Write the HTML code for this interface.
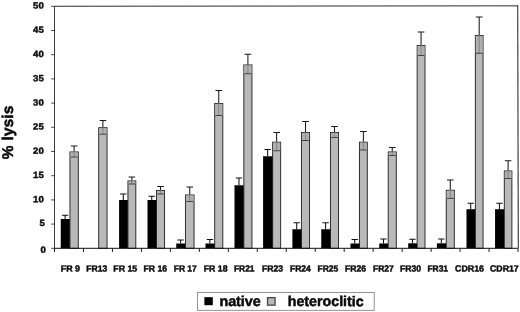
<!DOCTYPE html><html><head><meta charset="utf-8"><title>% lysis chart</title>
<style>html,body{margin:0;padding:0;background:#fff}svg{display:block}text{font-family:"Liberation Sans",sans-serif;font-weight:bold;fill:#0a0a0a;stroke:#0a0a0a;stroke-width:0.42px;stroke-linejoin:round}text.s{stroke-width:0.45px}text.b{stroke-width:0.5px}</style></head><body>
<svg width="520" height="312" viewBox="0 0 520 312">
<defs><filter id="soft" x="0" y="0" width="100%" height="100%" filterUnits="userSpaceOnUse" color-interpolation-filters="sRGB"><feGaussianBlur stdDeviation="0.32"/></filter></defs>
<rect width="520" height="312" fill="#fff"/>
<g filter="url(#soft)">
<rect width="520" height="312" fill="#fff"/>
<line x1="54.5" y1="6.25" x2="518.0" y2="5.85" stroke="#2c2c2c" stroke-width="1"/>
<line x1="54.5" y1="6" x2="54.5" y2="251.2" stroke="#1c1c1c" stroke-width="0.85"/>
<line x1="517.7" y1="5.6" x2="518.3" y2="248.3" stroke="#333" stroke-width="1.1"/>
<line x1="51.2" y1="248.30" x2="54.5" y2="248.30" stroke="#333" stroke-width="0.9"/>
<text x="45.7" y="252.70" font-size="9.0" text-anchor="end" textLength="5.3" lengthAdjust="spacingAndGlyphs" transform="rotate(0.03 45.7 252.70)">0</text>
<line x1="51.2" y1="224.10" x2="54.5" y2="224.10" stroke="#333" stroke-width="0.9"/>
<text x="44.9" y="226.10" font-size="9.0" text-anchor="end" textLength="5.3" lengthAdjust="spacingAndGlyphs" transform="rotate(0.03 44.9 226.10)">5</text>
<line x1="51.2" y1="199.90" x2="54.5" y2="199.90" stroke="#333" stroke-width="0.9"/>
<text x="43.7" y="202.20" font-size="9.0" text-anchor="end" textLength="10.6" lengthAdjust="spacingAndGlyphs" transform="rotate(0.03 43.7 202.20)">10</text>
<line x1="51.2" y1="175.70" x2="54.5" y2="175.70" stroke="#333" stroke-width="0.9"/>
<text x="43.7" y="178.00" font-size="9.0" text-anchor="end" textLength="10.6" lengthAdjust="spacingAndGlyphs" transform="rotate(0.03 43.7 178.00)">15</text>
<line x1="51.2" y1="151.50" x2="54.5" y2="151.50" stroke="#333" stroke-width="0.9"/>
<text x="43.7" y="153.80" font-size="9.0" text-anchor="end" textLength="10.6" lengthAdjust="spacingAndGlyphs" transform="rotate(0.03 43.7 153.80)">20</text>
<line x1="51.2" y1="127.30" x2="54.5" y2="127.30" stroke="#333" stroke-width="0.9"/>
<text x="43.7" y="129.60" font-size="9.0" text-anchor="end" textLength="10.6" lengthAdjust="spacingAndGlyphs" transform="rotate(0.03 43.7 129.60)">25</text>
<line x1="51.2" y1="103.10" x2="54.5" y2="103.10" stroke="#333" stroke-width="0.9"/>
<text x="43.7" y="105.40" font-size="9.0" text-anchor="end" textLength="10.6" lengthAdjust="spacingAndGlyphs" transform="rotate(0.03 43.7 105.40)">30</text>
<line x1="51.2" y1="78.90" x2="54.5" y2="78.90" stroke="#333" stroke-width="0.9"/>
<text x="43.7" y="81.20" font-size="9.0" text-anchor="end" textLength="10.6" lengthAdjust="spacingAndGlyphs" transform="rotate(0.03 43.7 81.20)">35</text>
<line x1="51.2" y1="54.70" x2="54.5" y2="54.70" stroke="#333" stroke-width="0.9"/>
<text x="43.7" y="57.00" font-size="9.0" text-anchor="end" textLength="10.6" lengthAdjust="spacingAndGlyphs" transform="rotate(0.03 43.7 57.00)">40</text>
<line x1="51.2" y1="30.50" x2="54.5" y2="30.50" stroke="#333" stroke-width="0.9"/>
<text x="43.7" y="32.80" font-size="9.0" text-anchor="end" textLength="10.6" lengthAdjust="spacingAndGlyphs" transform="rotate(0.03 43.7 32.80)">45</text>
<line x1="51.2" y1="6.30" x2="54.5" y2="6.30" stroke="#333" stroke-width="0.9"/>
<text x="43.7" y="8.60" font-size="9.0" text-anchor="end" textLength="10.6" lengthAdjust="spacingAndGlyphs" transform="rotate(0.03 43.7 8.60)">50</text>
<rect x="69.95" y="151.95" width="8.35" height="96.35" fill="#b9b9b9" stroke="#262626" stroke-width="0.95"/>
<rect x="70.40" y="152.40" width="7.45" height="4.60" fill="#b0b0b0"/>
<path d="M74.12 151.50V157.00" stroke="#808080" stroke-width="0.85" fill="none"/>
<path d="M70.72 157.00h6.8" stroke="#383838" stroke-width="0.9" fill="none"/>
<path d="M74.12 146.00V151.50M70.83 146.00h6.6" stroke="#1a1a1a" stroke-width="1.05" fill="none"/>
<rect x="60.75" y="219.00" width="9.05" height="29.30" fill="#000"/>
<path d="M65.12 215.25V219.00M61.92 215.25h6.4" stroke="#111" stroke-width="1.05" fill="none"/>
<rect x="98.70" y="127.70" width="8.35" height="120.60" fill="#b9b9b9" stroke="#262626" stroke-width="0.95"/>
<rect x="99.15" y="128.15" width="7.45" height="6.10" fill="#b0b0b0"/>
<path d="M102.88 127.25V134.25" stroke="#808080" stroke-width="0.85" fill="none"/>
<path d="M99.47 134.25h6.8" stroke="#383838" stroke-width="0.9" fill="none"/>
<path d="M102.88 120.50V127.25M99.58 120.50h6.6" stroke="#1a1a1a" stroke-width="1.05" fill="none"/>
<rect x="127.95" y="180.95" width="7.85" height="67.35" fill="#b9b9b9" stroke="#262626" stroke-width="0.95"/>
<rect x="128.40" y="181.40" width="6.95" height="2.60" fill="#b0b0b0"/>
<path d="M131.88 180.50V184.00" stroke="#808080" stroke-width="0.85" fill="none"/>
<path d="M128.47 184.00h6.8" stroke="#383838" stroke-width="0.9" fill="none"/>
<path d="M131.88 177.00V180.50M128.57 177.00h6.6" stroke="#1a1a1a" stroke-width="1.05" fill="none"/>
<rect x="119.10" y="200.00" width="8.70" height="48.30" fill="#000"/>
<path d="M123.30 194.00V200.00M120.10 194.00h6.4" stroke="#111" stroke-width="1.05" fill="none"/>
<rect x="156.45" y="190.45" width="8.10" height="57.85" fill="#b9b9b9" stroke="#262626" stroke-width="0.95"/>
<rect x="156.90" y="190.90" width="7.20" height="3.10" fill="#b0b0b0"/>
<path d="M160.50 190.00V194.00" stroke="#808080" stroke-width="0.85" fill="none"/>
<path d="M157.10 194.00h6.8" stroke="#383838" stroke-width="0.9" fill="none"/>
<path d="M160.50 186.50V190.00M157.20 186.50h6.6" stroke="#1a1a1a" stroke-width="1.05" fill="none"/>
<rect x="147.50" y="200.00" width="8.80" height="48.30" fill="#000"/>
<path d="M151.75 196.25V200.00M148.55 196.25h6.4" stroke="#111" stroke-width="1.05" fill="none"/>
<rect x="185.45" y="194.95" width="8.60" height="53.35" fill="#b9b9b9" stroke="#262626" stroke-width="0.95"/>
<rect x="185.90" y="195.40" width="7.70" height="6.10" fill="#b0b0b0"/>
<path d="M189.75 194.50V201.50" stroke="#808080" stroke-width="0.85" fill="none"/>
<path d="M186.35 201.50h6.8" stroke="#383838" stroke-width="0.9" fill="none"/>
<path d="M189.75 187.00V194.50M186.45 187.00h6.6" stroke="#1a1a1a" stroke-width="1.05" fill="none"/>
<rect x="176.25" y="243.50" width="9.05" height="4.80" fill="#000"/>
<path d="M180.62 240.00V243.50M177.43 240.00h6.4" stroke="#111" stroke-width="1.05" fill="none"/>
<rect x="214.70" y="103.45" width="8.10" height="144.85" fill="#b9b9b9" stroke="#262626" stroke-width="0.95"/>
<rect x="215.15" y="103.90" width="7.20" height="11.60" fill="#b0b0b0"/>
<path d="M218.75 103.00V115.50" stroke="#808080" stroke-width="0.85" fill="none"/>
<path d="M215.35 115.50h6.8" stroke="#383838" stroke-width="0.9" fill="none"/>
<path d="M218.75 90.50V103.00M215.45 90.50h6.6" stroke="#1a1a1a" stroke-width="1.05" fill="none"/>
<rect x="205.50" y="243.50" width="9.05" height="4.80" fill="#000"/>
<path d="M209.88 239.50V243.50M206.68 239.50h6.4" stroke="#111" stroke-width="1.05" fill="none"/>
<rect x="243.85" y="64.95" width="8.10" height="183.35" fill="#b9b9b9" stroke="#262626" stroke-width="0.95"/>
<rect x="244.30" y="65.40" width="7.20" height="8.35" fill="#b0b0b0"/>
<path d="M247.90 64.50V73.75" stroke="#808080" stroke-width="0.85" fill="none"/>
<path d="M244.50 73.75h6.8" stroke="#383838" stroke-width="0.9" fill="none"/>
<path d="M247.90 54.25V64.50M244.60 54.25h6.6" stroke="#1a1a1a" stroke-width="1.05" fill="none"/>
<rect x="234.50" y="185.25" width="9.20" height="63.05" fill="#000"/>
<path d="M238.95 178.00V185.25M235.75 178.00h6.4" stroke="#111" stroke-width="1.05" fill="none"/>
<rect x="272.65" y="142.20" width="8.00" height="106.10" fill="#b9b9b9" stroke="#262626" stroke-width="0.95"/>
<rect x="273.10" y="142.65" width="7.10" height="8.10" fill="#b0b0b0"/>
<path d="M276.65 141.75V150.75" stroke="#808080" stroke-width="0.85" fill="none"/>
<path d="M273.25 150.75h6.8" stroke="#383838" stroke-width="0.9" fill="none"/>
<path d="M276.65 132.50V141.75M273.35 132.50h6.6" stroke="#1a1a1a" stroke-width="1.05" fill="none"/>
<rect x="263.10" y="156.25" width="9.40" height="92.05" fill="#000"/>
<path d="M267.65 149.50V156.25M264.45 149.50h6.4" stroke="#111" stroke-width="1.05" fill="none"/>
<rect x="301.45" y="132.45" width="8.10" height="115.85" fill="#b9b9b9" stroke="#262626" stroke-width="0.95"/>
<rect x="301.90" y="132.90" width="7.20" height="7.60" fill="#b0b0b0"/>
<path d="M305.50 132.00V140.50" stroke="#808080" stroke-width="0.85" fill="none"/>
<path d="M302.10 140.50h6.8" stroke="#383838" stroke-width="0.9" fill="none"/>
<path d="M305.50 121.50V132.00M302.20 121.50h6.6" stroke="#1a1a1a" stroke-width="1.05" fill="none"/>
<rect x="292.40" y="229.25" width="8.90" height="19.05" fill="#000"/>
<path d="M296.70 222.75V229.25M293.50 222.75h6.4" stroke="#111" stroke-width="1.05" fill="none"/>
<rect x="330.45" y="132.45" width="8.10" height="115.85" fill="#b9b9b9" stroke="#262626" stroke-width="0.95"/>
<rect x="330.90" y="132.90" width="7.20" height="4.60" fill="#b0b0b0"/>
<path d="M334.50 132.00V137.50" stroke="#808080" stroke-width="0.85" fill="none"/>
<path d="M331.10 137.50h6.8" stroke="#383838" stroke-width="0.9" fill="none"/>
<path d="M334.50 126.50V132.00M331.20 126.50h6.6" stroke="#1a1a1a" stroke-width="1.05" fill="none"/>
<rect x="321.25" y="229.25" width="9.05" height="19.05" fill="#000"/>
<path d="M325.62 222.75V229.25M322.43 222.75h6.4" stroke="#111" stroke-width="1.05" fill="none"/>
<rect x="359.45" y="142.20" width="7.85" height="106.10" fill="#b9b9b9" stroke="#262626" stroke-width="0.95"/>
<rect x="359.90" y="142.65" width="6.95" height="7.35" fill="#b0b0b0"/>
<path d="M363.38 141.75V150.00" stroke="#808080" stroke-width="0.85" fill="none"/>
<path d="M359.98 150.00h6.8" stroke="#383838" stroke-width="0.9" fill="none"/>
<path d="M363.38 131.50V141.75M360.07 131.50h6.6" stroke="#1a1a1a" stroke-width="1.05" fill="none"/>
<rect x="350.50" y="243.50" width="8.80" height="4.80" fill="#000"/>
<path d="M354.75 239.50V243.50M351.55 239.50h6.4" stroke="#111" stroke-width="1.05" fill="none"/>
<rect x="388.20" y="151.95" width="8.10" height="96.35" fill="#b9b9b9" stroke="#262626" stroke-width="0.95"/>
<rect x="388.65" y="152.40" width="7.20" height="3.10" fill="#b0b0b0"/>
<path d="M392.25 151.50V155.50" stroke="#808080" stroke-width="0.85" fill="none"/>
<path d="M388.85 155.50h6.8" stroke="#383838" stroke-width="0.9" fill="none"/>
<path d="M392.25 147.50V151.50M388.95 147.50h6.6" stroke="#1a1a1a" stroke-width="1.05" fill="none"/>
<rect x="379.25" y="243.50" width="8.80" height="4.80" fill="#000"/>
<path d="M383.50 239.00V243.50M380.30 239.00h6.4" stroke="#111" stroke-width="1.05" fill="none"/>
<rect x="417.15" y="45.45" width="7.85" height="202.85" fill="#b9b9b9" stroke="#262626" stroke-width="0.95"/>
<rect x="417.60" y="45.90" width="6.95" height="9.60" fill="#b0b0b0"/>
<path d="M421.07 45.00V55.50" stroke="#808080" stroke-width="0.85" fill="none"/>
<path d="M417.68 55.50h6.8" stroke="#383838" stroke-width="0.9" fill="none"/>
<path d="M421.07 32.00V45.00M417.77 32.00h6.6" stroke="#1a1a1a" stroke-width="1.05" fill="none"/>
<rect x="408.20" y="243.30" width="8.80" height="5.00" fill="#000"/>
<path d="M412.45 239.15V243.30M409.25 239.15h6.4" stroke="#111" stroke-width="1.05" fill="none"/>
<rect x="446.25" y="190.25" width="8.05" height="58.05" fill="#b9b9b9" stroke="#262626" stroke-width="0.95"/>
<rect x="446.70" y="190.70" width="7.15" height="7.70" fill="#b0b0b0"/>
<path d="M450.27 189.80V198.40" stroke="#808080" stroke-width="0.85" fill="none"/>
<path d="M446.88 198.40h6.8" stroke="#383838" stroke-width="0.9" fill="none"/>
<path d="M450.27 179.90V189.80M446.97 179.90h6.6" stroke="#1a1a1a" stroke-width="1.05" fill="none"/>
<rect x="436.90" y="243.30" width="9.20" height="5.00" fill="#000"/>
<path d="M441.35 239.00V243.30M438.15 239.00h6.4" stroke="#111" stroke-width="1.05" fill="none"/>
<rect x="475.35" y="35.45" width="7.70" height="212.85" fill="#b9b9b9" stroke="#262626" stroke-width="0.95"/>
<rect x="475.80" y="35.90" width="6.80" height="17.35" fill="#b0b0b0"/>
<path d="M479.20 35.00V53.25" stroke="#808080" stroke-width="0.85" fill="none"/>
<path d="M475.80 53.25h6.8" stroke="#383838" stroke-width="0.9" fill="none"/>
<path d="M479.20 17.00V35.00M475.90 17.00h6.6" stroke="#1a1a1a" stroke-width="1.05" fill="none"/>
<rect x="466.50" y="209.20" width="8.70" height="39.10" fill="#000"/>
<path d="M470.70 203.20V209.20M467.50 203.20h6.4" stroke="#111" stroke-width="1.05" fill="none"/>
<rect x="504.30" y="170.95" width="7.60" height="77.35" fill="#b9b9b9" stroke="#262626" stroke-width="0.95"/>
<rect x="504.75" y="171.40" width="6.70" height="7.10" fill="#b0b0b0"/>
<path d="M508.10 170.50V178.50" stroke="#808080" stroke-width="0.85" fill="none"/>
<path d="M504.70 178.50h6.8" stroke="#383838" stroke-width="0.9" fill="none"/>
<path d="M508.10 160.70V170.50M504.80 160.70h6.6" stroke="#1a1a1a" stroke-width="1.05" fill="none"/>
<rect x="495.05" y="209.20" width="9.10" height="39.10" fill="#000"/>
<path d="M499.45 203.20V209.20M496.25 203.20h6.4" stroke="#111" stroke-width="1.05" fill="none"/>
<line x1="54.5" y1="248.3" x2="518.0" y2="248.3" stroke="#111" stroke-width="1"/>
<line x1="54.50" y1="248.3" x2="54.50" y2="251.9" stroke="#1a1a1a" stroke-width="1"/>
<line x1="83.47" y1="248.3" x2="83.47" y2="251.9" stroke="#1a1a1a" stroke-width="1"/>
<line x1="112.44" y1="248.3" x2="112.44" y2="251.9" stroke="#1a1a1a" stroke-width="1"/>
<line x1="141.41" y1="248.3" x2="141.41" y2="251.9" stroke="#1a1a1a" stroke-width="1"/>
<line x1="170.38" y1="248.3" x2="170.38" y2="251.9" stroke="#1a1a1a" stroke-width="1"/>
<line x1="199.35" y1="248.3" x2="199.35" y2="251.9" stroke="#1a1a1a" stroke-width="1"/>
<line x1="228.32" y1="248.3" x2="228.32" y2="251.9" stroke="#1a1a1a" stroke-width="1"/>
<line x1="257.29" y1="248.3" x2="257.29" y2="251.9" stroke="#1a1a1a" stroke-width="1"/>
<line x1="286.26" y1="248.3" x2="286.26" y2="251.9" stroke="#1a1a1a" stroke-width="1"/>
<line x1="315.23" y1="248.3" x2="315.23" y2="251.9" stroke="#1a1a1a" stroke-width="1"/>
<line x1="344.20" y1="248.3" x2="344.20" y2="251.9" stroke="#1a1a1a" stroke-width="1"/>
<line x1="373.17" y1="248.3" x2="373.17" y2="251.9" stroke="#1a1a1a" stroke-width="1"/>
<line x1="402.14" y1="248.3" x2="402.14" y2="251.9" stroke="#1a1a1a" stroke-width="1"/>
<line x1="431.11" y1="248.3" x2="431.11" y2="251.9" stroke="#1a1a1a" stroke-width="1"/>
<line x1="460.08" y1="248.3" x2="460.08" y2="251.9" stroke="#1a1a1a" stroke-width="1"/>
<line x1="489.05" y1="248.3" x2="489.05" y2="251.9" stroke="#1a1a1a" stroke-width="1"/>
<line x1="518.02" y1="248.3" x2="518.02" y2="251.9" stroke="#1a1a1a" stroke-width="1"/>
<text x="60.75" y="271.4" font-size="8.9" class="s" textLength="19.25" lengthAdjust="spacingAndGlyphs" xml:space="preserve" transform="rotate(0.03 60.75 271.4)">FR 9</text>
<text x="86.25" y="271.4" font-size="8.9" class="s" textLength="21" lengthAdjust="spacingAndGlyphs" xml:space="preserve" transform="rotate(0.03 86.25 271.4)">FR13</text>
<text x="113.25" y="271.4" font-size="8.9" class="s" textLength="24" lengthAdjust="spacingAndGlyphs" xml:space="preserve" transform="rotate(0.03 113.25 271.4)">FR 15</text>
<text x="143.5" y="271.4" font-size="8.9" class="s" textLength="23.5" lengthAdjust="spacingAndGlyphs" xml:space="preserve" transform="rotate(0.03 143.5 271.4)">FR 16</text>
<text x="173.75" y="271.4" font-size="8.9" class="s" textLength="23" lengthAdjust="spacingAndGlyphs" xml:space="preserve" transform="rotate(0.03 173.75 271.4)">FR 17</text>
<text x="203.75" y="271.4" font-size="8.9" class="s" textLength="23.75" lengthAdjust="spacingAndGlyphs" xml:space="preserve" transform="rotate(0.03 203.75 271.4)">FR 18</text>
<text x="234" y="271.4" font-size="8.9" class="s" textLength="20.5" lengthAdjust="spacingAndGlyphs" xml:space="preserve" transform="rotate(0.03 234 271.4)">FR21</text>
<text x="262" y="271.4" font-size="8.9" class="s" textLength="21" lengthAdjust="spacingAndGlyphs" xml:space="preserve" transform="rotate(0.03 262 271.4)">FR23</text>
<text x="290" y="271.4" font-size="8.9" class="s" textLength="20.75" lengthAdjust="spacingAndGlyphs" xml:space="preserve" transform="rotate(0.03 290 271.4)">FR24</text>
<text x="317.5" y="271.4" font-size="8.9" class="s" textLength="20.75" lengthAdjust="spacingAndGlyphs" xml:space="preserve" transform="rotate(0.03 317.5 271.4)">FR25</text>
<text x="345" y="271.4" font-size="8.9" class="s" textLength="21" lengthAdjust="spacingAndGlyphs" xml:space="preserve" transform="rotate(0.03 345 271.4)">FR26</text>
<text x="373" y="271.4" font-size="8.9" class="s" textLength="20.75" lengthAdjust="spacingAndGlyphs" xml:space="preserve" transform="rotate(0.03 373 271.4)">FR27</text>
<text x="400" y="271.4" font-size="8.9" class="s" textLength="21" lengthAdjust="spacingAndGlyphs" xml:space="preserve" transform="rotate(0.03 400 271.4)">FR30</text>
<text x="427.5" y="271.4" font-size="8.9" class="s" textLength="20.5" lengthAdjust="spacingAndGlyphs" xml:space="preserve" transform="rotate(0.03 427.5 271.4)">FR31</text>
<text x="455" y="271.4" font-size="8.9" class="s" textLength="29" lengthAdjust="spacingAndGlyphs" xml:space="preserve" transform="rotate(0.03 455 271.4)">CDR16</text>
<text x="490" y="271.4" font-size="8.9" class="s" textLength="28.75" lengthAdjust="spacingAndGlyphs" xml:space="preserve" transform="rotate(0.03 490 271.4)">CDR17</text>
<g transform="translate(12.9 159.2) rotate(-90.03)"><text class="b" x="0" y="0" font-size="15.5" textLength="13.8" lengthAdjust="spacingAndGlyphs">%</text><text class="b" x="18.6" y="0" font-size="15.5" textLength="35" lengthAdjust="spacingAndGlyphs">lysis</text></g>
<rect x="197.6" y="292.4" width="176.6" height="17.9" fill="#fff" stroke="#7a7a7a" stroke-width="0.8"/>
<rect x="204.4" y="297.2" width="8.4" height="8" fill="#000"/>
<text class="b" x="219.4" y="306.1" transform="rotate(0.03 219.4 306.1)" font-size="14.3" textLength="41.4" lengthAdjust="spacingAndGlyphs">native</text>
<rect x="267.55" y="297.65" width="7.5" height="7.5" fill="#b9b9b9" stroke="#444" stroke-width="1.3"/>
<text class="b" x="287.7" y="306.1" transform="rotate(0.03 287.7 306.1)" font-size="14.3" textLength="76" lengthAdjust="spacingAndGlyphs">heteroclitic</text>
</g>
</svg></body></html>
